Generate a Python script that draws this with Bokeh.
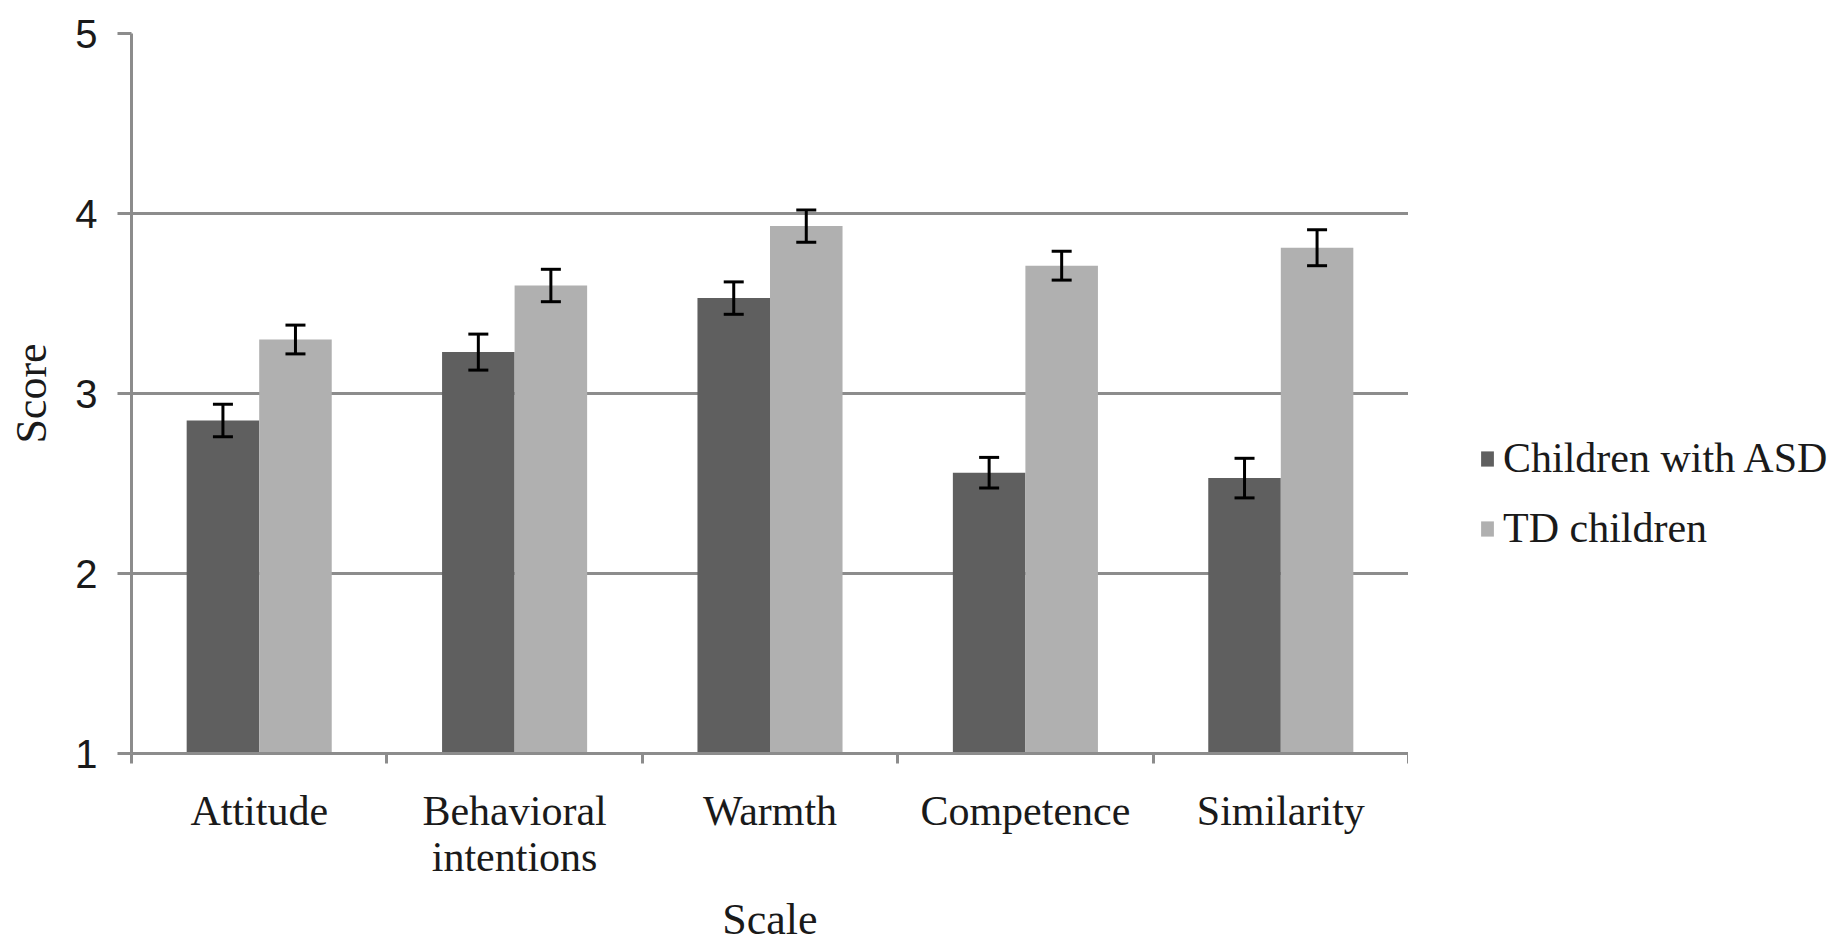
import numpy as np
from bokeh.plotting import figure
from bokeh.layouts import row
from bokeh.models import (Range1d, FixedTicker, ColumnDataSource, Whisker, TeeHead,
                          Legend, LegendItem)
from bokeh.transform import dodge
from bokeh.embed import file_html
from bokeh.resources import INLINE

# ---- data ----
categories = ["Attitude", "Behavioral\nintentions", "Warmth", "Competence", "Similarity"]
series_names = ["Children with ASD", "TD children"]
asd_mean = [2.85, 3.23, 3.53, 2.56, 2.53]
asd_err = [0.09, 0.10, 0.09, 0.085, 0.11]
td_mean = [3.30, 3.60, 3.93, 3.71, 3.81]
td_err = [0.08, 0.09, 0.09, 0.08, 0.10]
y_ticks = [1, 2, 3, 4, 5]
x_title = "Scale"
y_title = "Score"

# ---- style ----
DARK = "#5f5f5f"
LIGHT = "#b0b0b0"
GRID = "#8c8c8c"
TEXT = "#1a1a1a"
SERIF = "Liberation Serif"
SANS = "Liberation Sans"

n = len(categories)
xs = np.arange(n)
src = ColumnDataSource(dict(
    x=xs,
    asd=asd_mean, asd_lo=np.array(asd_mean) - np.array(asd_err), asd_hi=np.array(asd_mean) + np.array(asd_err),
    td=td_mean, td_lo=np.array(td_mean) - np.array(td_err), td_hi=np.array(td_mean) + np.array(td_err),
))

p = figure(width=1408, height=946, x_range=Range1d(-0.5, n - 0.5), y_range=Range1d(y_ticks[0], y_ticks[-1]),
           output_backend="svg", toolbar_location=None,
           min_border_left=131, min_border_right=0, min_border_top=33, min_border_bottom=185)
p.outline_line_color = None
p.background_fill_color = "white"
p.border_fill_color = "white"

BW = 0.284
OFF = 0.142
r1 = p.vbar(x=dodge("x", -OFF, range=p.x_range), top="asd", bottom=y_ticks[0], width=BW,
            source=src, fill_color=DARK, line_color=None)
r2 = p.vbar(x=dodge("x", OFF, range=p.x_range), top="td", bottom=y_ticks[0], width=BW,
            source=src, fill_color=LIGHT, line_color=None)

for off, lo, hi in [(-OFF, "asd_lo", "asd_hi"), (OFF, "td_lo", "td_hi")]:
    w = Whisker(base=dodge("x", off, range=p.x_range), lower=lo, upper=hi, source=src,
                dimension="height", line_color="black", line_width=3, level="overlay",
                upper_head=TeeHead(size=20, line_width=3, line_color="black"),
                lower_head=TeeHead(size=20, line_width=3, line_color="black"))
    p.add_layout(w)

# grid
p.xgrid.visible = False
p.ygrid.grid_line_color = GRID
p.ygrid.grid_line_width = 3

# y axis
ya = p.yaxis[0]
ya.ticker = FixedTicker(ticks=y_ticks)
ya.axis_line_color = GRID
ya.axis_line_width = 3
ya.major_tick_line_color = GRID
ya.major_tick_line_width = 3
ya.major_tick_out = 14
ya.major_tick_in = 0
ya.minor_tick_line_color = None
ya.major_label_standoff = 20
ya.major_label_text_font = SANS
ya.major_label_text_font_size = "40px"
ya.major_label_text_color = TEXT
ya.axis_label = y_title
ya.axis_label_text_font = SERIF
ya.axis_label_text_font_size = "44px"
ya.axis_label_text_font_style = "normal"
ya.axis_label_text_color = TEXT
ya.axis_label_standoff = 16

# x axis
xa = p.xaxis[0]
xa.ticker = FixedTicker(ticks=list(xs), minor_ticks=list(np.arange(n + 1) - 0.5))
xa.major_label_overrides = {int(i): c for i, c in zip(xs, categories)}
xa.axis_line_color = GRID
xa.axis_line_width = 3
xa.major_tick_out = 0
xa.major_tick_in = 0
xa.major_tick_line_color = None
xa.minor_tick_out = 10
xa.minor_tick_in = 0
xa.minor_tick_line_color = GRID
xa.minor_tick_line_width = 3
xa.major_label_standoff = 24
xa.major_label_text_font = SERIF
xa.major_label_text_font_size = "42px"
xa.major_label_text_line_height = 1.0
xa.major_label_text_color = TEXT
xa.axis_label = x_title
xa.axis_label_text_font = SERIF
xa.axis_label_text_font_size = "44px"
xa.axis_label_text_font_style = "normal"
xa.axis_label_text_color = TEXT
xa.axis_label_standoff = 12

# ---- legend figure (right side) ----
# the same bars are drawn here, but far outside this panel's visible ranges,
# so that only the legend swatches show
lp = figure(width=431, height=946, x_range=Range1d(-20, -19), y_range=Range1d(-20, -19),
            output_backend="svg", toolbar_location=None, x_axis_type=None, y_axis_type=None,
            min_border_left=0, min_border_right=0, min_border_top=0, min_border_bottom=0)
lp.outline_line_color = None
lp.xgrid.visible = False
lp.ygrid.visible = False
lr1 = lp.vbar(x="x", top="asd", bottom=y_ticks[0], width=BW, source=src, fill_color=DARK, line_color=None)
lr2 = lp.vbar(x="x", top="td", bottom=y_ticks[0], width=BW, source=src, fill_color=LIGHT, line_color=None)

legend = Legend(items=[LegendItem(label=series_names[0], renderers=[lr1]),
                       LegendItem(label=series_names[1], renderers=[lr2])],
                location=(71, 201), orientation="vertical",
                label_text_font=SERIF, label_text_font_size="42px", label_text_color=TEXT,
                glyph_width=16, glyph_height=19, label_standoff=8, spacing=22,
                padding=0, margin=0, border_line_color=None, background_fill_alpha=0)
lp.add_layout(legend)

layout = row(p, lp, spacing=0)
open("out.html", "w").write(file_html(layout, INLINE))
